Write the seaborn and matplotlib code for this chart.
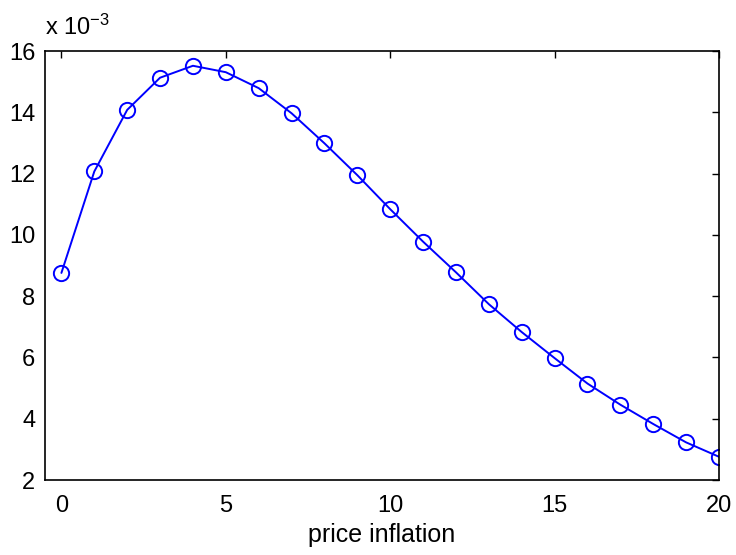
import matplotlib
matplotlib.use("Agg")
import matplotlib.pyplot as plt
from matplotlib.ticker import FuncFormatter
import seaborn as sns
import pandas as pd

x_vals = list(range(21))
y_vals = [8.76, 12.07, 14.08, 15.13, 15.52, 15.31, 14.79, 13.97, 12.99, 11.95,
          10.84, 9.78, 8.78, 7.74, 6.83, 5.98, 5.15, 4.46, 3.83, 3.23, 2.76]
y_scaled = [v * 1e-3 for v in y_vals]
x_ticks = [0, 5, 10, 15, 20]
y_ticks = [2, 4, 6, 8, 10, 12, 14, 16]
x_label = "price inflation"

sns.set_style("white")
plt.rcParams['font.family'] = ['Liberation Sans', 'DejaVu Sans']
plt.rcParams['text.color'] = 'black'
plt.rcParams['mathtext.fontset'] = 'custom'
plt.rcParams['mathtext.rm'] = 'Liberation Sans'
plt.rcParams['mathtext.it'] = 'Liberation Sans'
plt.rcParams['mathtext.default'] = 'regular'

df = pd.DataFrame({"x": x_vals, "y": y_scaled})

fig = plt.figure(figsize=(7.36, 5.55), dpi=100)
ax = fig.add_axes([0.0611, 0.135, 0.9158, 0.773])
sns.lineplot(data=df, x="x", y="y", ax=ax, color="#0000ff", linewidth=1.4,
             marker="o", markersize=11, markerfacecolor="none",
             markeredgecolor="#0000ff", markeredgewidth=1.4)

ax.set_xlim(-0.5, 20)
ax.set_ylim(2e-3, 16e-3)
ax.set_xticks(x_ticks)
ax.set_yticks([t * 1e-3 for t in y_ticks])
ax.yaxis.set_major_formatter(FuncFormatter(lambda v, p: f"{v*1e3:.0f}"))
ax.tick_params(direction="in", length=5, width=1, top=True, right=True,
               labelsize=17, colors="black", labelcolor="black")
ax.tick_params(axis="x", pad=11)
ax.tick_params(axis="y", pad=7)
for s in ax.spines.values():
    s.set_visible(True)
    s.set_color("black")
    s.set_linewidth(1.2)
ax.set_xlabel(x_label, fontsize=18, labelpad=4, color="black")
ax.set_ylabel("")
ax.grid(False)
ax.text(0.0, 1.025, "x 10$^{-3}$", transform=ax.transAxes, fontsize=17,
        ha="left", va="bottom", color="black")

fig.savefig("out.png", dpi=100)
